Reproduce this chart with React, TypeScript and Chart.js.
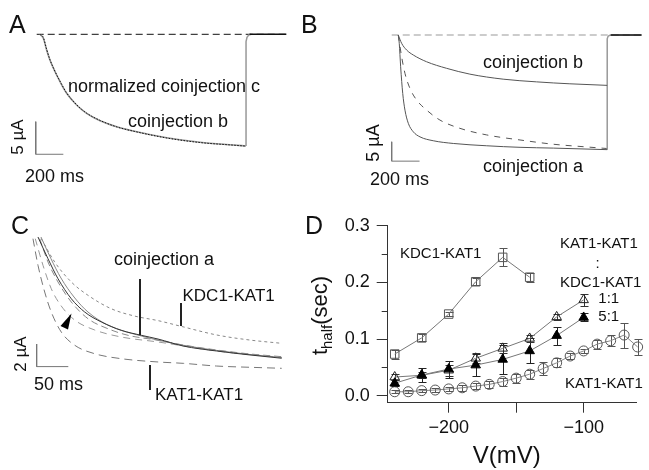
import React, { useEffect, useRef } from 'react';
import { Chart, registerables } from 'chart.js';
Chart.register(...registerables);

const FONT = "'Liberation Sans', Arial, Helvetica, sans-serif";

// ---------------- Panel A (time ms, current µA) ----------------
const aRangeT = [-290, 2029];
const aRangeI = [-28.48, 5.26];
const aTime = [0, 24, 48, 72, 109, 145, 193, 265, 338, 435, 556, 676, 918, 1159, 1401, 1493];
const aCoinjB = [0, -0.61, -2.41, -3.94, -5.74, -7.27, -9.05, -10.84, -12.12, -13.25, -14.17, -14.83, -15.86, -16.56, -16.98, -17.13];
const aNormC = [0, -0.5, -2.3, -3.9, -5.7, -7.2, -9.0, -10.8, -12.1, -13.2, -14.2, -14.85, -15.9, -16.6, -17.0, -17.15];
const aStepT = [1493, 1493, 1500, 1512, 1530];
const aStepI = [-17.13, -1.1, -0.45, -0.12, 0];
const aTailT = [1518, 1785];
const aTailI = [0, 0];
const aBaseT = [-24, 1788];
const aBaseI = [0, 0];
const aBarT = [-31, -31, 169];
const aBarI = [-13.4, -18.4, -18.4];

// ---------------- Panel B ----------------
const bRangeT = [-562, 1800];
const bRangeI = [-42.6, 9.04];
const bTimeB = [0, 24, 60, 108, 203, 347, 514, 753, 993, 1232, 1500];
const bCoinjB = [0, -2.14, -3.88, -5.17, -6.9, -8.6, -10.1, -11.4, -12.1, -12.6, -13.0];
const bTimeA = [0, 7, 17, 32, 48, 72, 108, 156, 251, 395, 635, 874, 1113, 1500];
const bCoinjA = [0, -2.14, -8.2, -15.1, -19.4, -22.8, -25, -26.3, -27.3, -28, -28.6, -29, -29.2, -29.6];
const bTimeD = [0, 24, 48, 84, 132, 204, 299, 443, 635, 874, 1113, 1352, 1496];
const bDashed = [0, -5.6, -9.9, -13.8, -16.8, -19.4, -21.96, -24.1, -25.8, -27.1, -28.2, -28.9, -29.3];
const bStepT = [1500, 1500, 1506, 1515, 1530];
const bStepI = [-29.6, -1.0, -0.35, -0.1, 0];
const bTailT = [1525, 1747];
const bTailI = [0, 0];
const bBaseT = [-47, 1747];
const bBaseI = [0, 0];
const bBarT = [-47.4, -47.4, 152.6];
const bBarI = [-27.57, -32.57, -32.57];

// ---------------- Panel C ----------------
const cRangeT = [-52.1, 453.4];
const cRangeI = [-20.62, 3.274];
const cKdcT = [13.1, 34.3, 60.5, 86.9, 123.7, 160.7, 197.5, 232.2, 290.2, 342.8, 392.9];
const cKdcI = [-0.15, -2.21, -3.98, -5.16, -6.35, -7.0, -7.4, -7.88, -8.67, -9.12, -9.41];
const cSolidT = [7.9, 23.7, 39.5, 60.5, 81.7, 107.9, 139.5, 171.1, 197.5, 237.4, 290.2, 342.8, 392.9];
const cSolidI = [0, -1.92, -3.69, -5.46, -6.64, -7.52, -8.26, -8.7, -9.03, -9.65, -10.09, -10.44, -10.73];
const cSolid2T = [12.6, 28.4, 44.2, 64.8, 86.9, 118.5, 171.1, 237.4, 342.8, 392.9];
const cSolid2I = [0, -1.92, -3.63, -5.31, -6.64, -7.79, -8.76, -9.58, -10.4, -10.66];
const cDash1T = [10.6, 23.7, 39.5, 60.5, 86.9, 118.5, 150.1, 197.5, 237.4, 290.2, 342.8, 392.9];
const cDash1I = [-0.15, -2.21, -3.98, -5.75, -7.23, -8.12, -8.7, -9.14, -9.56, -10.0, -10.35, -10.59];
const cDash2T = [3.6, 15.8, 28.9, 44.7, 65.9, 97.5, 139.5, 197.5, 290.2, 392.9];
const cDash2I = [-0.15, -2.5, -4.58, -6.11, -7.35, -8.23, -8.85, -9.29, -10.09, -10.66];
const cKatT = [0, 7.9, 18.5, 28.9, 44.7, 65.9, 97.5, 139.5, 197.5, 237.4, 290.2, 342.8, 392.9];
const cKatI = [-0.15, -2.5, -4.87, -6.64, -8.41, -9.58, -10.33, -10.77, -11.06, -11.18, -11.42, -11.53, -11.62];
const cBarT = [5.8, 5.8, 55.8];
const cBarI = [-9.47, -11.47, -11.47];

// ---------------- Panel D (V in mV, t_half in sec) ----------------
const dRangeV = [-245.2, -60.7];
const dRangeT = [-0.0123, 0.3];
const dXTicks = [-200, -150, -100];
const dXTickLabels = ['\u2212200', '', '\u2212100'];
const dYTicks = [0, 0.1, 0.2, 0.3];
const dYTickLabels = ['0.0', '0.1', '0.2', '0.3'];
const dYMinorTicks = [0.05, 0.15, 0.25];

const sqV = [-240, -220, -200, -180, -160, -140];
const sqT = [0.0735, 0.102, 0.144, 0.201, 0.244, 0.209];
const sqE = [0.008, 0.006, 0.004, 0.006, 0.016, 0.008];

const triV = [-240, -220, -200, -180, -160, -140, -120, -100];
const openT = [0.033, 0.036, 0.045, 0.066, 0.0835, 0.101, 0.139, 0.169];
const openE = [0.006, 0.005, 0.01, 0.009, 0.009, 0.006, 0.005, 0.011];
const fillT = [0.022, 0.0365, 0.047, 0.054, 0.064, 0.079, 0.106, 0.138];
const fillE = [0.005, 0.012, 0.015, 0.019, 0.025, 0.022, 0.016, 0.007];

const circV = [-240, -230, -220, -210, -200, -190, -180, -170, -160, -150, -140, -130, -120, -110, -100, -90, -80, -70, -60];
const circT = [0.007, 0.007, 0.009, 0.01, 0.012, 0.014, 0.017, 0.02, 0.025, 0.031, 0.038, 0.048, 0.058, 0.07, 0.079, 0.091, 0.097, 0.107, 0.086];
const circE = [0.003, 0.003, 0.003, 0.004, 0.004, 0.005, 0.005, 0.006, 0.007, 0.008, 0.008, 0.011, 0.008, 0.006, 0.003, 0.008, 0.01, 0.022, 0.014];

// ---------------- helpers ----------------
function xy(xs: number[], ys: number[]) {
  return xs.map((x, i) => ({ x, y: ys[i] }));
}

function trace(xs: number[], ys: number[], color: string, width: number, dash: number[] = [], smooth = true): any {
  return {
    data: xy(xs, ys),
    showLine: true,
    borderColor: color,
    backgroundColor: color,
    borderWidth: width,
    borderDash: dash,
    pointRadius: 0,
    pointHoverRadius: 0,
    fill: false,
    tension: 0,
    cubicInterpolationMode: smooth ? 'monotone' : 'default',
  };
}

type Txt = { s: string; x: number; y: number; size: number; align?: CanvasTextAlign; rot?: boolean };

function drawTexts(ctx: CanvasRenderingContext2D, items: Txt[]) {
  ctx.save();
  ctx.fillStyle = '#111';
  for (const it of items) {
    ctx.font = `${it.size}px ${FONT}`;
    if (it.rot) {
      ctx.save();
      ctx.translate(it.x, it.y);
      ctx.rotate(-Math.PI / 2);
      ctx.textAlign = 'center';
      ctx.textBaseline = 'middle';
      ctx.fillText(it.s, 0, 0);
      ctx.restore();
    } else {
      ctx.textAlign = it.align || 'left';
      ctx.textBaseline = 'alphabetic';
      ctx.fillText(it.s, it.x, it.y);
    }
  }
  ctx.restore();
}

function traceOptions(xr: number[], yr: number[], plugin: any): any {
  return {
    type: 'scatter',
    options: {
      animation: false,
      responsive: false,
      maintainAspectRatio: false,
      events: [],
      layout: { padding: 0 },
      plugins: { legend: { display: false }, tooltip: { enabled: false } },
      scales: {
        x: { type: 'linear', display: false, min: xr[0], max: xr[1] },
        y: { type: 'linear', display: false, min: yr[0], max: yr[1] },
      },
    },
    plugins: [plugin],
  };
}

const errPlugin = {
  id: 'errbars',
  beforeDatasetsDraw(chart: any) {
    const ctx = chart.ctx as CanvasRenderingContext2D;
    const xs = chart.scales.x;
    const ys = chart.scales.y;
    chart.data.datasets.forEach((ds: any) => {
      if (!ds.errors) return;
      ctx.save();
      ctx.strokeStyle = ds.errColor;
      ctx.lineWidth = 1;
      ds.data.forEach((p: any, i: number) => {
        const e = ds.errors[i];
        const px = Math.round(xs.getPixelForValue(p.x)) + 0.5;
        const y1 = Math.round(ys.getPixelForValue(p.y + e)) + 0.5;
        const y2 = Math.round(ys.getPixelForValue(p.y - e)) + 0.5;
        ctx.beginPath();
        ctx.moveTo(px, y1);
        ctx.lineTo(px, y2);
        ctx.moveTo(px - 4, y1);
        ctx.lineTo(px + 4, y1);
        ctx.moveTo(px - 4, y2);
        ctx.lineTo(px + 4, y2);
        ctx.stroke();
      });
      ctx.restore();
    });
  },
};

export default function App() {
  const refA = useRef<HTMLCanvasElement>(null);
  const refB = useRef<HTMLCanvasElement>(null);
  const refC = useRef<HTMLCanvasElement>(null);
  const refD = useRef<HTMLCanvasElement>(null);

  useEffect(() => {
    const charts: Chart[] = [];

    // ---- A ----
    const cfgA = traceOptions(aRangeT, aRangeI, {
      id: 'textA',
      afterDraw(chart: any) {
        drawTexts(chart.ctx, [
          { s: 'A', x: 9, y: 33, size: 25 },
          { s: 'B', x: 301, y: 33, size: 25 },
          { s: 'normalized coinjection c', x: 68, y: 91.5, size: 18 },
          { s: 'coinjection b', x: 128, y: 126.5, size: 18 },
          { s: '5 \u00b5A', x: 18, y: 137, size: 17, rot: true },
          { s: '200 ms', x: 25, y: 181.5, size: 18 },
        ]);
      },
    });
    cfgA.data = {
      datasets: [
        trace(aTailT, aTailI, '#111', 1.6, [], false),
        trace(aTime, aNormC, '#111', 1, [1.5, 1.5]),
        trace(aTime, aCoinjB, '#999', 1.6),
        trace(aStepT, aStepI, '#999', 1.5, [], false),
        trace(aBaseT, aBaseI, '#111', 1, [7, 4], false),
        trace(aBarT, aBarI, '#777', 1, [], false),
      ],
    };
    charts.push(new Chart(refA.current!, cfgA));

    // ---- B ----
    const cfgB = traceOptions(bRangeT, bRangeI, {
      id: 'textB',
      afterDraw(chart: any) {
        drawTexts(chart.ctx, [
          { s: 'coinjection b', x: 163, y: 67.5, size: 18 },
          { s: 'coinjection a', x: 163, y: 172, size: 18 },
          { s: '5 \u00b5A', x: 54, y: 143, size: 18, rot: true },
          { s: '200 ms', x: 50, y: 184.5, size: 18 },
        ]);
      },
    });
    cfgB.data = {
      datasets: [
        trace(bTailT, bTailI, '#111', 1.6, [], false),
        trace(bTimeB, bCoinjB, '#555', 1),
        trace(bTimeD, bDashed, '#555', 1, [6, 6]),
        trace(bTimeA, bCoinjA, '#555', 1),
        trace(bStepT, bStepI, '#999', 1.5, [], false),
        trace(bBaseT, bBaseI, '#999', 1, [7, 4], false),
        trace(bBarT, bBarI, '#777', 1, [], false),
      ],
    };
    charts.push(new Chart(refB.current!, cfgB));

    // ---- C ---- (canvas top at page y = 200)
    const cfgC = traceOptions(cRangeT, cRangeI, {
      id: 'textC',
      afterDraw(chart: any) {
        const ctx = chart.ctx as CanvasRenderingContext2D;
        drawTexts(ctx, [
          { s: 'C', x: 11, y: 34, size: 25 },
          { s: 'coinjection a', x: 114, y: 65, size: 18 },
          { s: 'KDC1-KAT1', x: 182.5, y: 100.5, size: 17 },
          { s: 'KAT1-KAT1', x: 155, y: 200, size: 17 },
          { s: '2 \u00b5A', x: 21, y: 154, size: 17, rot: true },
          { s: '50 ms', x: 34, y: 190, size: 18 },
        ]);
        ctx.save();
        ctx.strokeStyle = '#222';
        ctx.lineWidth = 2;
        ctx.beginPath();
        ctx.moveTo(140, 79);
        ctx.lineTo(140, 135);
        ctx.moveTo(181, 103);
        ctx.lineTo(181, 126);
        ctx.moveTo(150, 165);
        ctx.lineTo(150, 190);
        ctx.stroke();
        ctx.fillStyle = '#000';
        ctx.beginPath();
        ctx.moveTo(71.5, 113.5);
        ctx.lineTo(60.5, 126);
        ctx.lineTo(68, 129.5);
        ctx.closePath();
        ctx.fill();
        ctx.restore();
      },
    });
    cfgC.data = {
      datasets: [
        trace(cSolidT, cSolidI, '#333', 1),
        trace(cSolid2T, cSolid2I, '#888', 1),
        trace(cKdcT, cKdcI, '#888', 1, [3, 3]),
        trace(cDash1T, cDash1I, '#888', 1, [7, 4]),
        trace(cDash2T, cDash2I, '#999', 1, [7, 5]),
        trace(cKatT, cKatI, '#777', 1, [8, 5]),
        trace(cBarT, cBarI, '#777', 1, [], false),
      ],
    };
    charts.push(new Chart(refC.current!, cfgC));

    // ---- D ----
    const tickFont = { family: FONT, size: 18 };
    const cfgD: any = {
      type: 'scatter',
      data: {
        datasets: [
          {
            data: xy(triV, fillT), showLine: true, borderColor: '#777', borderWidth: 1, clip: false,
            pointStyle: 'triangle', pointRadius: 5.5, pointBackgroundColor: '#000', pointBorderColor: '#000', pointBorderWidth: 1,
            errors: fillE, errColor: '#222',
          },
          {
            data: xy(triV, openT), showLine: true, borderColor: '#777', borderWidth: 1, clip: false,
            pointStyle: 'triangle', pointRadius: 5.5, pointBackgroundColor: 'rgba(0,0,0,0)', pointBorderColor: '#222', pointBorderWidth: 1,
            errors: openE, errColor: '#333',
          },
          {
            data: xy(sqV, sqT), showLine: true, borderColor: '#777', borderWidth: 1, clip: false,
            pointStyle: 'rect', pointRadius: 6, pointBackgroundColor: 'rgba(0,0,0,0)', pointBorderColor: '#555', pointBorderWidth: 1,
            errors: sqE, errColor: '#555',
          },
          {
            data: xy(circV, circT), showLine: true, borderColor: '#888', borderWidth: 1, clip: false,
            pointStyle: 'circle', pointRadius: 5, pointBackgroundColor: 'rgba(0,0,0,0)', pointBorderColor: '#555', pointBorderWidth: 1,
            errors: circE, errColor: '#555',
          },
        ],
      },
      options: {
        animation: false,
        responsive: false,
        maintainAspectRatio: false,
        events: [],
        layout: { padding: { left: 0, top: 25.6, right: 12.3, bottom: 0 } },
        plugins: { legend: { display: false }, tooltip: { enabled: false } },
        scales: {
          x: {
            type: 'linear', min: dRangeV[0], max: dRangeV[1],
            afterBuildTicks: (s: any) => { s.ticks = dXTicks.map((v) => ({ value: v })); },
            afterFit: (s: any) => { s.height = 67.3; },
            ticks: { callback: (_v: any, i: number) => dXTickLabels[i], font: tickFont, color: '#111', padding: 5, maxRotation: 0, autoSkip: false },
            grid: { drawOnChartArea: false, drawTicks: true, tickLength: 10, tickColor: '#333' },
            border: { display: true, color: '#333', width: 1 },
          },
          y: {
            type: 'linear', min: dRangeT[0], max: dRangeT[1],
            afterBuildTicks: (s: any) => { s.ticks = dYTicks.map((v) => ({ value: v })); },
            afterFit: (s: any) => { s.width = 87.7; },
            ticks: { callback: (_v: any, i: number) => dYTickLabels[i], font: tickFont, color: '#111', padding: 7, autoSkip: false },
            grid: { drawOnChartArea: false, drawTicks: true, tickLength: 11, tickColor: '#333' },
            border: { display: true, color: '#333', width: 1 },
          },
        },
      },
      plugins: [
        errPlugin,
        {
          id: 'textD',
          afterDraw(chart: any) {
            const ctx = chart.ctx as CanvasRenderingContext2D;
            const ys = chart.scales.y;
            const left = chart.chartArea.left;
            ctx.save();
            ctx.strokeStyle = '#333';
            ctx.lineWidth = 1;
            ctx.beginPath();
            dYMinorTicks.forEach((v) => {
              const py = Math.round(ys.getPixelForValue(v)) + 0.5;
              ctx.moveTo(left - 6, py);
              ctx.lineTo(left, py);
            });
            ctx.stroke();
            ctx.restore();
            drawTexts(ctx, [
              { s: 'D', x: 5, y: 34, size: 25 },
              { s: 'KDC1-KAT1', x: 100, y: 58.3, size: 15 },
              { s: 'KAT1-KAT1', x: 260, y: 48, size: 15 },
              { s: ':', x: 297.7, y: 68, size: 15, align: 'center' },
              { s: 'KDC1-KAT1', x: 260, y: 86.7, size: 15 },
              { s: '1:1', x: 298.3, y: 103.3, size: 15 },
              { s: '5:1', x: 298.3, y: 121, size: 15 },
              { s: 'KAT1-KAT1', x: 265, y: 187.7, size: 15 },
              { s: 'V(mV)', x: 206.7, y: 263, size: 24, align: 'center' },
            ]);
            ctx.save();
            ctx.fillStyle = '#111';
            const big = `22px ${FONT}`;
            const small = `15px ${FONT}`;
            ctx.font = big;
            const wT = ctx.measureText('t').width;
            const wS = ctx.measureText('(sec)').width;
            ctx.font = small;
            const wH = ctx.measureText('half').width;
            const total = wT + wH + wS;
            ctx.translate(27, 115.5 + total / 2);
            ctx.rotate(-Math.PI / 2);
            ctx.textBaseline = 'alphabetic';
            ctx.textAlign = 'left';
            ctx.font = big;
            ctx.fillText('t', 0, 0);
            ctx.font = small;
            ctx.fillText('half', wT, 5);
            ctx.font = big;
            ctx.fillText('(sec)', wT + wH, 0);
            ctx.restore();
          },
        },
      ],
    };
    charts.push(new Chart(refD.current!, cfgD));

    return () => charts.forEach((c) => c.destroy());
  }, []);

  const cv = (l: number, t: number, w: number, h: number): React.CSSProperties => ({
    position: 'absolute', left: l, top: t, width: w, height: h,
  });

  return (
    <div style={{ position: 'absolute', left: 0, top: 0, width: 649, height: 470, background: '#fff', overflow: 'hidden' }}>
      <canvas ref={refA} width={320} height={220} style={cv(0, 0, 320, 220)} />
      <canvas ref={refB} width={329} height={200} style={cv(320, 0, 329, 200)} />
      <canvas ref={refC} width={320} height={270} style={cv(0, 200, 320, 270)} />
      <canvas ref={refD} width={349} height={270} style={cv(300, 200, 349, 270)} />
    </div>
  );
}
